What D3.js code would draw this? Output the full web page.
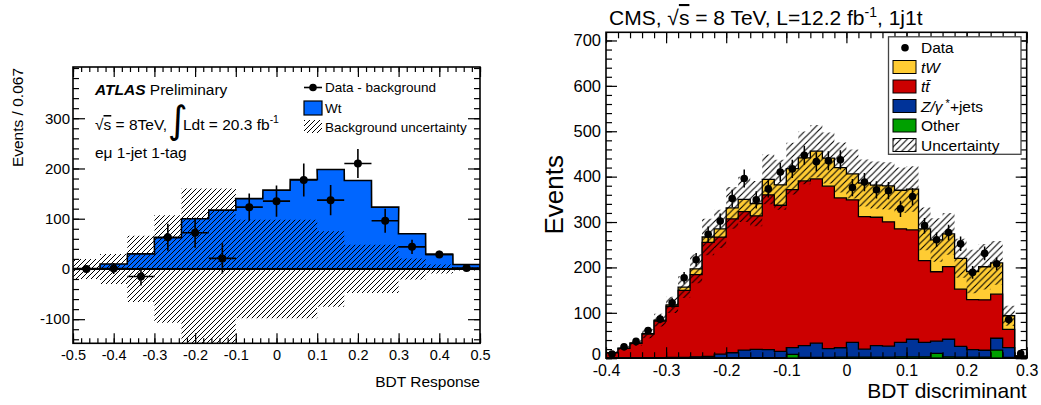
<!DOCTYPE html>
<html><head><meta charset="utf-8">
<script src="https://cdn.jsdelivr.net/npm/d3@7"></script>
<style>
body{margin:0;background:#fff;}
svg{display:block;font-family:"Liberation Sans",Arial,Helvetica,sans-serif;}
</style></head><body>
<svg id="c" width="1041" height="405"></svg>
<script>
// ================= LEFT PANEL (ATLAS) =================
const binCentersL = [-0.467,-0.4,-0.333,-0.267,-0.2,-0.133,-0.067,0,0.067,0.133,0.2,0.267,0.333,0.4,0.467];
const binWidthL = 0.0667;
const wtL = [1,10,30,62,100,117,140,157,178,198,176,123,70,29,9];
const dataBkgL = [0,1,-15,63,72,21,123,135,177,137,210,96,44,29,2];
const dataErrL = [5,11,18,27,30,30,27,31,33,30,29,24,14,7,3];
const bkgUncL = [20,30,66,107,160,160,98,98,98,75,48,48,21,9,3];
const xTicksL = [-0.5,-0.4,-0.3,-0.2,-0.1,0,0.1,0.2,0.3,0.4,0.5];
const xTickLabelsL = ["-0.5","-0.4","-0.3","-0.2","-0.1","0","0.1","0.2","0.3","0.4","0.5"];
const yTicksL = [-100,0,100,200,300];
const yTickLabelsL = ["-100","0","100","200","300"];

// ================= RIGHT PANEL (CMS) =================
const binCentersR = [-0.39,-0.37,-0.35,-0.33,-0.31,-0.29,-0.27,-0.25,-0.23,-0.21,-0.19,-0.17,-0.15,-0.13,-0.11,-0.09,-0.07,-0.05,-0.03,-0.01,0.01,0.03,0.05,0.07,0.09,0.11,0.13,0.15,0.17,0.19,0.21,0.23,0.25,0.27,0.29];
const binWidthR = 0.02;
const otherR = [0.3,0.3,0.3,0.3,0.3,0.3,0.5,0.5,0.5,0.8,1,1,1,1,1,8.5,2,2,2,2.5,2.5,2.5,2.5,2.5,3,3,3,10.8,3,2.5,2.5,2.5,18,2,0.3];
const zjetsR = [0.5,0.5,0.5,0.7,0.7,1.2,1,2.5,3.5,8,11,17,18.6,18,14,15,25.5,31,19,20.5,32.5,17.5,25,24,32,38.7,32,26.7,38.7,23.5,16.5,15,26,21.5,1.7];
const ttbarR = [11,21,32,52,81,113,148,181,251,258,295,305,294,341,322,348,363,362,358,330,314,292,283,274,250,241,180,153,160,126,110,111,97,40,2];
const tWR = [0.5,0.5,1,1,2,3,7,13,12,18,24,27,27,34,45,46,51,61,62,67,57,74,71,79,85,90,70,70,72,68,62,73,69,30,1];
const dataR = [9,25,37,61,86,122,177,217,273,302,352,396,349,373,410,417,447,433,435,437,376,388,371,369,329,356,292,261,277,252,189,231,208,85,10];
const dataErrR = [3,5,6,8,9,11,13,15,17,17,19,20,19,19,20,20,21,21,21,21,19,20,19,19,18,19,17,16,17,16,14,15,14,9,3];
const uncR = [3,5,7,10,14,18,24,32,40,42,46,50,50,55,55,57,58,58,56,55,54,52,52,52,50,50,47,48,46,43,48,50,48,22,2];
const xTicksR = [-0.4,-0.3,-0.2,-0.1,0,0.1,0.2,0.3];
const xTickLabelsR = ["-0.4","-0.3","-0.2","-0.1","0","0.1","0.2","0.3"];
const yTicksR = [0,100,200,300,400,500,600,700];
const yTickLabelsR = ["0","100","200","300","400","500","600","700"];
const seriesKeys = ["other","zjets","ttbar","tW"];
const seriesColors = {other:"#00a000", zjets:"#003399", ttbar:"#cc0000", tW:"#ffcc33"};

const svg = d3.select("#c");
const defs = svg.append("defs");
function hatch(id, s, w){
  const p = defs.append("pattern").attr("id",id).attr("patternUnits","userSpaceOnUse")
    .attr("width",s).attr("height",s);
  p.append("path").attr("d",`M0,${s} L${s},0 M${-s/2},${s/2} L${s/2},${-s/2} M${s/2},${s*1.5} L${s*1.5},${s/2}`)
    .attr("stroke","#000").attr("stroke-width",w).attr("fill","none");
}
hatch("hL",5,1.0);
hatch("hR",6.5,1.1);

const xL = d3.scaleLinear().domain([-0.5,0.5]).range([73,480]);
const yL = d3.scaleLinear().domain([-148,402]).range([343.3,67]);
const xR = d3.scaleLinear().domain([-0.4,0.3]).range([606,1026.7]);
const yR = d3.scaleLinear().domain([0,718]).range([358.2,32.3]);

defs.append("clipPath").attr("id","cL").append("rect").attr("x",73).attr("y",67).attr("width",407).attr("height",276.3);
defs.append("clipPath").attr("id","cR").append("rect").attr("x",606).attr("y",32.3).attr("width",420.7).attr("height",325.9);

function steps(centers,w,vals){
  const pts=[];
  centers.forEach((c,i)=>{pts.push([c-w/2,vals[i]]);pts.push([c+w/2,vals[i]]);});
  return pts;
}
function bandSteps(centers,w,lo,hi){
  const pts=[];
  centers.forEach((c,i)=>{pts.push([c-w/2,lo[i],hi[i]]);pts.push([c+w/2,lo[i],hi[i]]);});
  return pts;
}

// ---------- Left plot ----------
const gL = svg.append("g").attr("clip-path","url(#cL)");
const ptsWt = steps(binCentersL,binWidthL,wtL);
gL.append("path").attr("d",d3.area().x(d=>xL(d[0])).y0(yL(0)).y1(d=>yL(d[1]))(ptsWt)).attr("fill","#0066ff");
gL.append("path").attr("d",d3.line().x(d=>xL(d[0])).y(d=>yL(d[1]))([[binCentersL[0]-binWidthL/2,0],...ptsWt,[binCentersL[14]+binWidthL/2,0]]))
  .attr("fill","none").attr("stroke","#000").attr("stroke-width",1.6);
const bandL = bandSteps(binCentersL,binWidthL,bkgUncL.map(v=>-v),bkgUncL);
gL.append("path").attr("d",d3.area().x(d=>xL(d[0])).y0(d=>yL(d[1])).y1(d=>yL(d[2]))(bandL)).attr("fill","url(#hL)");
gL.append("line").attr("x1",xL(-0.5)).attr("x2",xL(0.5)).attr("y1",yL(0)).attr("y2",yL(0)).attr("stroke","#000").attr("stroke-width",2);
const dL = gL.append("g");
binCentersL.forEach((c,i)=>{
  dL.append("line").attr("x1",xL(c-binWidthL/2)).attr("x2",xL(c+binWidthL/2)).attr("y1",yL(dataBkgL[i])).attr("y2",yL(dataBkgL[i])).attr("stroke","#000").attr("stroke-width",1.6);
  dL.append("line").attr("x1",xL(c)).attr("x2",xL(c)).attr("y1",yL(dataBkgL[i]-dataErrL[i])).attr("y2",yL(dataBkgL[i]+dataErrL[i])).attr("stroke","#000").attr("stroke-width",1.6);
  dL.append("circle").attr("cx",xL(c)).attr("cy",yL(dataBkgL[i])).attr("r",4).attr("fill","#000");
});

// ---------- Right plot ----------
const gR = svg.append("g").attr("clip-path","url(#cR)");
const rows = binCentersR.map((c,i)=>({c, other:otherR[i], zjets:zjetsR[i], ttbar:ttbarR[i], tW:tWR[i]}));
const stack = d3.stack().keys(seriesKeys)(rows);
const lo = binCentersR[0]-binWidthR/2, hi = binCentersR[binCentersR.length-1]+binWidthR/2;
for (let k=stack.length-1;k>=0;k--){
  const layer = stack[k];
  const tops = layer.map(d=>d[1]);
  const pts = steps(binCentersR,binWidthR,tops);
  gR.append("path").attr("d",d3.area().x(d=>xR(d[0])).y0(yR(0)).y1(d=>yR(d[1]))(pts)).attr("fill",seriesColors[layer.key]);
  gR.append("path").attr("d",d3.line().x(d=>xR(d[0])).y(d=>yR(d[1]))([[lo,0],...pts,[hi,0]]))
    .attr("fill","none").attr("stroke","#000").attr("stroke-width",1.3);
}
const totR = stack[stack.length-1].map(d=>d[1]);
const bandR = bandSteps(binCentersR,binWidthR,totR.map((t,i)=>t-uncR[i]),totR.map((t,i)=>t+uncR[i]));
gR.append("path").attr("d",d3.area().x(d=>xR(d[0])).y0(d=>yR(d[1])).y1(d=>yR(d[2]))(bandR)).attr("fill","url(#hR)");
const dR = gR.append("g");
binCentersR.forEach((c,i)=>{
  dR.append("line").attr("x1",xR(c)).attr("x2",xR(c)).attr("y1",yR(dataR[i]-dataErrR[i])).attr("y2",yR(dataR[i]+dataErrR[i])).attr("stroke","#000").attr("stroke-width",1.5);
  dR.append("circle").attr("cx",xR(c)).attr("cy",yR(dataR[i])).attr("r",3.8).attr("fill","#000");
});

// ---------- Axes ----------
function ticks(g, axisFn, scale, pos, vals, size, labels, pad, fs){
  const a = axisFn(scale).tickValues(vals).tickSize(size).tickSizeOuter(0);
  if (labels) a.tickFormat((d,i)=>labels[i]).tickPadding(pad); else a.tickFormat("");
  const gg = svg.append("g").attr("transform",pos).call(a);
  gg.select(".domain").remove();
  gg.selectAll("line").attr("stroke","#000").attr("stroke-width",1.2);
  gg.selectAll("text").attr("font-size",fs).attr("fill","#000").attr("font-family",'"Liberation Sans",Arial,sans-serif');
  return gg;
}
// left
const minorXL = d3.range(-0.5,0.5001,0.02);
const minorYL = d3.range(-140,401,20);
ticks(svg,d3.axisBottom,xL,`translate(0,343.3)`,xTicksL,-10,xTickLabelsL,6,14.5);
ticks(svg,d3.axisBottom,xL,`translate(0,343.3)`,minorXL,-5,null);
ticks(svg,d3.axisTop,xL,`translate(0,67)`,xTicksL,-10,null);
ticks(svg,d3.axisTop,xL,`translate(0,67)`,minorXL,-5,null);
ticks(svg,d3.axisLeft,yL,`translate(73,0)`,yTicksL,-12,yTickLabelsL,3,15);
ticks(svg,d3.axisLeft,yL,`translate(73,0)`,minorYL,-6,null);
ticks(svg,d3.axisRight,yL,`translate(480,0)`,yTicksL,-12,null);
ticks(svg,d3.axisRight,yL,`translate(480,0)`,minorYL,-6,null);
svg.append("rect").attr("x",73).attr("y",67).attr("width",407).attr("height",276.3).attr("fill","none").attr("stroke","#000").attr("stroke-width",1.6);
// right
const minorXR = d3.range(-0.4,0.3001,0.02);
const minorYR = d3.range(0,711,20);
ticks(svg,d3.axisBottom,xR,`translate(0,358.2)`,xTicksR,-11,xTickLabelsR,6.5,16);
ticks(svg,d3.axisBottom,xR,`translate(0,358.2)`,minorXR,-6,null);
ticks(svg,d3.axisTop,xR,`translate(0,32.3)`,xTicksR,-11,null);
ticks(svg,d3.axisTop,xR,`translate(0,32.3)`,minorXR,-6,null);
const yAxR = ticks(svg,d3.axisLeft,yR,`translate(606,0)`,yTicksR,-11,yTickLabelsR,5,16.5);
yAxR.selectAll(".tick").filter(d=>d===0).select("text").attr("dy","0.05em");
ticks(svg,d3.axisLeft,yR,`translate(606,0)`,minorYR,-6,null);
ticks(svg,d3.axisRight,yR,`translate(1026.7,0)`,yTicksR,-11,null);
ticks(svg,d3.axisRight,yR,`translate(1026.7,0)`,minorYR,-6,null);
svg.append("rect").attr("x",606).attr("y",32.3).attr("width",420.7).attr("height",325.9).attr("fill","none").attr("stroke","#000").attr("stroke-width",1.6);

// ---------- Left texts ----------
svg.append("text").attr("transform","translate(23,68) rotate(-90)").attr("text-anchor","end").attr("font-size",15.5).text("Events / 0.067");
svg.append("text").attr("x",480).attr("y",387).attr("text-anchor","end").attr("font-size",15.5).text("BDT Response");
const t1 = svg.append("text").attr("x",95).attr("y",95).attr("font-size",15.5);
t1.append("tspan").attr("font-weight","bold").attr("font-style","italic").text("ATLAS");
t1.append("tspan").text(" Preliminary");
const t2 = svg.append("text").attr("x",95).attr("y",130).attr("font-size",15.5);
t2.append("tspan").text("√");
t2.append("tspan").style("text-decoration","overline").text("s");
t2.append("tspan").text(" = 8TeV, ");
svg.append("text").attr("x",168).attr("y",133).attr("font-size",38).attr("font-family","DejaVu Sans").text("∫");
const t3 = svg.append("text").attr("x",183).attr("y",130).attr("font-size",15.5);
t3.append("tspan").text("Ldt = 20.3 fb");
t3.append("tspan").attr("dy",-7).attr("font-size",10.5).text("-1");
svg.append("text").attr("x",95).attr("y",158).attr("font-size",15.5).text("eμ 1-jet 1-tag");
// left legend
svg.append("line").attr("x1",304).attr("x2",322).attr("y1",87.5).attr("y2",87.5).attr("stroke","#000").attr("stroke-width",1.6);
svg.append("circle").attr("cx",313).attr("cy",87.5).attr("r",3.8).attr("fill","#000");
svg.append("text").attr("x",325).attr("y",92).attr("font-size",13.5).text("Data - background");
svg.append("rect").attr("x",304).attr("y",101).attr("width",18).attr("height",14).attr("fill","#0066ff").attr("stroke","#000").attr("stroke-width",1.2);
svg.append("text").attr("x",325).attr("y",113).attr("font-size",13.5).text("Wt");
svg.append("rect").attr("x",304).attr("y",120).attr("width",18).attr("height",13).attr("fill","url(#hL)");
svg.append("text").attr("x",325).attr("y",131.5).attr("font-size",13.5).text("Background uncertainty");

// ---------- Right texts ----------
const tt = svg.append("text").attr("x",609).attr("y",25).attr("font-size",21);
tt.append("tspan").text("CMS, √");
tt.append("tspan").style("text-decoration","overline").text("s");
tt.append("tspan").text(" = 8 TeV, L=12.2 fb");
tt.append("tspan").attr("dy",-8).attr("font-size",14).text("-1");
tt.append("tspan").attr("dy",8).text(", 1j1t");
svg.append("text").attr("transform","translate(563,155) rotate(-90)").attr("text-anchor","end").attr("font-size",26).text("Events");
svg.append("text").attr("x",1026.7).attr("y",398).attr("text-anchor","end").attr("font-size",21).text("BDT discriminant");
// right legend
svg.append("rect").attr("x",888.5).attr("y",36.8).attr("width",132.5).attr("height",117.5).attr("fill","#fff").attr("stroke","#444").attr("stroke-width",1.3);
const legY = [47.7,67,86.5,106,125.5,145];
svg.append("circle").attr("cx",905).attr("cy",legY[0]).attr("r",3.8).attr("fill","#000");
const legItems = [["tW","tW"],["ttbar","tt̄"],["zjets","Z/γ"],["other","Other"]];
legItems.forEach((it,i)=>{
  svg.append("rect").attr("x",893).attr("y",legY[i+1]-6.5).attr("width",23).attr("height",13).attr("fill",seriesColors[it[0]]).attr("stroke","#000").attr("stroke-width",1);
});
svg.append("rect").attr("x",893).attr("y",legY[5]-6.5).attr("width",23).attr("height",13).attr("fill","url(#hR)").attr("stroke","#000").attr("stroke-width",1);
const lx = 921, fsL = 15.5;
svg.append("text").attr("x",lx).attr("y",legY[0]+5.5).attr("font-size",fsL).text("Data");
svg.append("text").attr("x",lx).attr("y",legY[1]+5.5).attr("font-size",fsL).attr("font-style","italic").text("tW");
svg.append("text").attr("x",lx).attr("y",legY[2]+5.5).attr("font-size",fsL).attr("font-style","italic").text("tt̄");
const zt = svg.append("text").attr("x",lx).attr("y",legY[3]+5.5).attr("font-size",fsL);
zt.append("tspan").attr("font-style","italic").text("Z/γ");
zt.append("tspan").attr("dy",-5).attr("font-size",11).text(" *");
zt.append("tspan").attr("dy",5).text("+jets");
svg.append("text").attr("x",lx).attr("y",legY[4]+5.5).attr("font-size",fsL).text("Other");
svg.append("text").attr("x",lx).attr("y",legY[5]+5.5).attr("font-size",fsL).text("Uncertainty");
</script>
</body></html>
